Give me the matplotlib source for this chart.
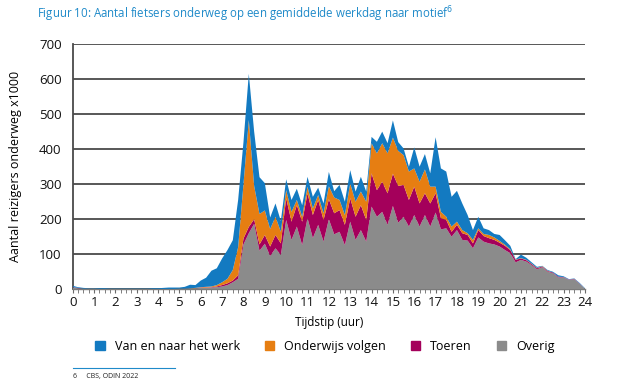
import numpy as np
import matplotlib
matplotlib.use("Agg")
import matplotlib.pyplot as plt
from matplotlib.patches import Patch

plt.rcParams['font.family'] = ['Open Sans', 'DejaVu Sans']

# time of day in hours, 15-minute steps
hours = [i / 4 for i in range(97)]

# cumulative tops (x1000 travellers)
top_overig = [5, 3, 2, 2, 2, 1, 1, 1, 1, 1, 1, 1, 1, 1, 1, 1, 1, 1, 1, 1,
              2, 2, 3, 3, 4, 4, 5, 6, 8, 12, 20, 30, 128, 160, 187, 110, 130, 95, 117, 98,
              198, 141, 179, 126, 203, 146, 184, 136, 200, 157, 164, 126, 193, 141, 169, 136,
              236, 207, 221, 184, 238, 190, 207, 179, 212, 179, 212, 179, 219, 171, 174, 150,
              169, 141, 139, 117, 148, 136, 131, 128, 122, 112, 103, 77, 84, 79, 69, 57,
              63, 50, 46, 34, 34, 27, 29, 15, 2]
top_toeren = [6, 4, 2, 2, 2, 1, 1, 1, 1, 1, 1, 1, 1, 1, 1, 1, 1, 1, 1, 1,
              2, 2, 3, 3, 5, 5, 6, 8, 12, 17, 25, 40, 145, 178, 200, 128, 155, 122, 155, 131,
              260, 193, 240, 193, 274, 212, 255, 198, 257, 217, 226, 184, 260, 207, 240, 198,
              331, 283, 307, 274, 330, 295, 298, 255, 293, 245, 274, 245, 274, 203, 198, 164,
              184, 160, 155, 131, 169, 152, 146, 141, 133, 124, 112, 84, 88, 83, 72, 60,
              65, 52, 48, 36, 35, 28, 30, 16, 2]
top_onderwijs = [6, 4, 2, 2, 2, 1, 1, 1, 1, 1, 1, 1, 1, 1, 1, 1, 1, 1, 1, 1,
                 2, 2, 3, 4, 6, 7, 8, 12, 20, 30, 55, 120, 300, 483, 295, 215, 225, 172, 207, 164,
                 283, 221, 255, 207, 293, 231, 269, 217, 294, 262, 255, 212, 302, 250, 279, 250,
                 417, 388, 417, 388, 433, 395, 383, 336, 345, 307, 342, 293, 293, 221, 207, 179,
                 193, 169, 160, 141, 174, 158, 155, 148, 138, 127, 114, 85, 89, 84, 73, 61,
                 66, 53, 48, 36, 35, 28, 30, 16, 2]
top_werk = [10, 6, 4, 3, 3, 3, 3, 2, 2, 2, 2, 2, 2, 2, 2, 3, 3, 4, 5, 5,
            5, 7, 13, 12, 25, 33, 53, 60, 88, 112, 140, 255, 420, 615, 450, 320, 303, 205, 245, 195,
            314, 255, 287, 240, 321, 264, 290, 245, 335, 280, 298, 250, 340, 279, 321, 279,
            435, 421, 450, 417, 482, 420, 402, 350, 405, 350, 386, 331, 434, 345, 336, 264,
            281, 245, 212, 169, 207, 174, 169, 158, 155, 140, 124, 86, 99, 90, 77, 64,
            67, 55, 50, 40, 37, 29, 31, 18, 3]

overig = np.array(top_overig)
toeren = np.array(top_toeren) - np.array(top_overig)
onderwijs = np.array(top_onderwijs) - np.array(top_toeren)
werk = np.array(top_werk) - np.array(top_onderwijs)

labels = ["Van en naar het werk", "Onderwijs volgen", "Toeren", "Overig"]
colors = {"werk": "#137ac1", "onderwijs": "#e67e12", "toeren": "#a4005b", "overig": "#8b8b8b"}

fig = plt.figure(figsize=(6.4, 3.85), dpi=100)
ax = fig.add_axes([0.1136, 0.2486, 0.8005, 0.637])

ax.stackplot(hours, overig, toeren, onderwijs, werk,
             colors=[colors["overig"], colors["toeren"], colors["onderwijs"], colors["werk"]],
             linewidth=0, zorder=3)

ax.set_xlim(0, 24)
ax.set_ylim(0, 700)
ax.set_yticks(range(0, 701, 100))
ax.set_xticks(range(0, 25))
ax.set_xticks([i / 4 for i in range(97)], minor=True)
ax.yaxis.grid(True, color="#4a4a4a", linewidth=1.3, zorder=0)
ax.set_axisbelow(True)
for s in ["top", "right"]:
    ax.spines[s].set_visible(False)
ax.spines["left"].set_color("#4a4a4a")
ax.spines["left"].set_linewidth(1.3)
ax.spines["bottom"].set_color("#7a7a7a")
ax.spines["bottom"].set_linewidth(1.0)
ax.tick_params(axis="y", length=0, labelsize=9.5, pad=8, labelcolor="#111111")
ax.tick_params(axis="x", which="both", length=3, color="#6a6a6a", labelsize=9.5, pad=2,
               labelcolor="#111111")
ax.set_xlabel("Tijdstip (uur)", fontsize=8.5, labelpad=5)
ax.set_ylabel("Aantal reizigers onderweg x1000", fontsize=9, labelpad=12)

fig.text(0.058, 0.962, "Figuur 10: Aantal fietsers onderweg op een gemiddelde werkdag naar motief$^{6}$",
         color="#1f8ac9", fontsize=8.3, va="center", ha="left")

handles = [Patch(color=colors["werk"]), Patch(color=colors["onderwijs"]),
           Patch(color=colors["toeren"]), Patch(color=colors["overig"])]
fig.legend(handles, labels, loc="center", bbox_to_anchor=(0.508, 0.1), ncol=4,
           frameon=False, fontsize=9, handlelength=0.75, handleheight=0.75,
           columnspacing=2.0, handletextpad=0.8)

fig.add_artist(plt.Line2D([0.114, 0.273], [0.044, 0.044], color="#1f8ac9", linewidth=0.8))
fig.text(0.114, 0.021, "6     CBS, ODIN 2022", fontsize=5, color="#222222", va="center")

fig.savefig("out.png", dpi=100)
